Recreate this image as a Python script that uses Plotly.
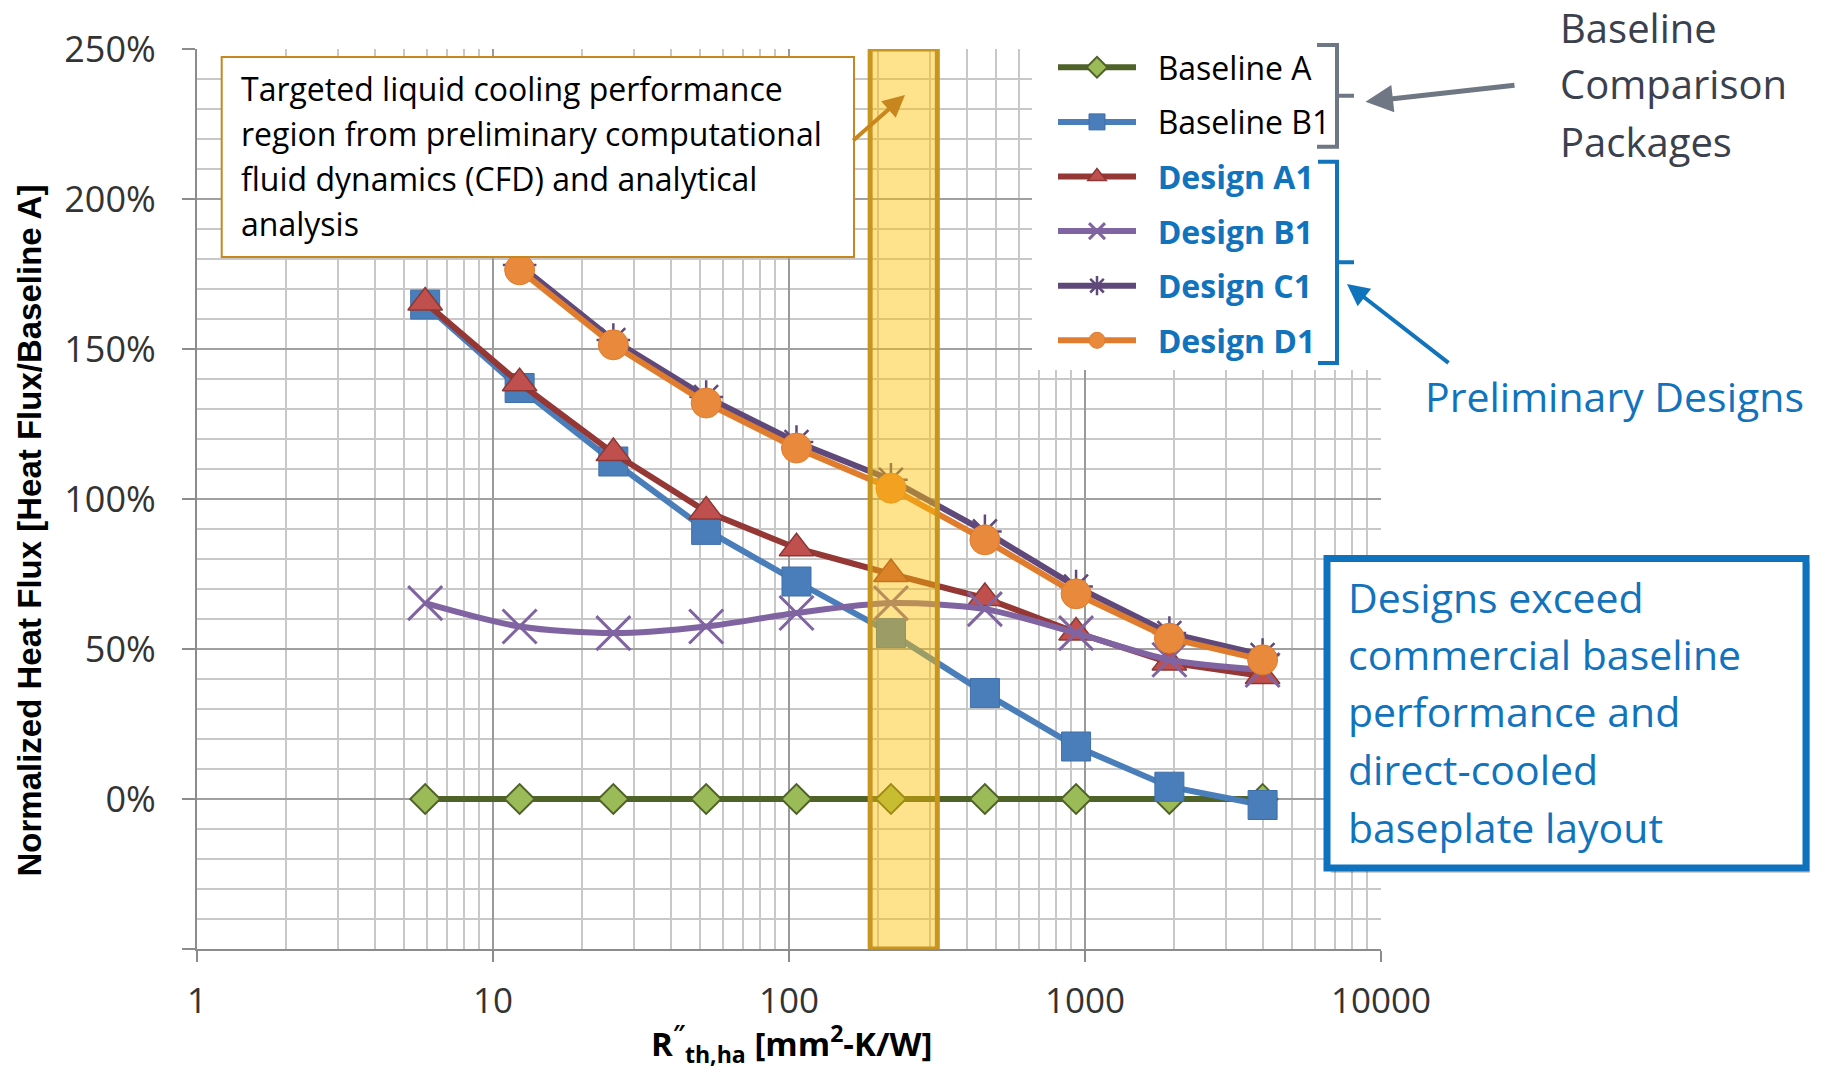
import plotly.graph_objects as go

# ---------------- data ----------------
r_th = [5.9, 12.3, 25.5, 52.5, 106, 221, 459, 933, 1928, 3981]
baseline_a = [0, 0, 0, 0, 0, 0, 0, 0, 0, 0]
baseline_b1 = [164.8, 137.0, 112.5, 89.7, 72.5, 55.3, 35.3, 17.5, 4.1, -2.0]
design_a1 = [165.5, 138.6, 115.3, 95.8, 83.6, 75.0, 67.0, 55.5, 45.5, 41.0]
design_b1 = [65.3, 57.5, 55.3, 57.5, 62.0, 65.3, 63.3, 55.3, 46.4, 43.0]
design_c1 = [None, 178.0, 153.0, 134.0, 119.0, 106.4, 89.2, 70.8, 55.3, 48.0]
design_d1 = [None, 176.4, 151.4, 132.0, 117.0, 103.6, 86.4, 68.4, 53.6, 46.4]
series_names = ["Baseline A", "Baseline B1", "Design A1", "Design B1", "Design C1", "Design D1"]
target_region = [188, 317]
y_tick_vals = [-50, 0, 50, 100, 150, 200, 250]
y_tick_text = ["", "0%", "50%", "100%", "150%", "200%", "250%"]
x_tick_vals = [1, 10, 100, 1000, 10000]
x_tick_text = ["1", "10", "100", "1000", "10000"]

note_lines = ["Targeted liquid cooling performance",
              "region from preliminary computational",
              "fluid dynamics (CFD) and analytical",
              "analysis"]
claim_lines = ["Designs exceed", "commercial baseline", "performance and",
               "direct-cooled", "baseplate layout"]
group_lines = ["Baseline", "Comparison", "Packages"]

# ---------------- layout geometry ----------------
W, H = 1824, 1068
L, R, T, B = 197, 443, 49, 119
PW, PH = W - L - R, H - T - B


def px(x):
    return (x - L) / PW


def py(y):
    return (H - B - y) / PH


BLUE = "#1273BD"
FONT = "Open Sans"
NB = "\u00a0\u00a0"

styles = [
    dict(line=dict(color="#4F6228", width=6),
         marker=dict(symbol="diamond", size=23, color="#9BBB59", line=dict(color="#4F6228", width=2))),
    dict(line=dict(color="#4A7EBB", width=6),
         marker=dict(symbol="square", size=29, color="#4A7EBB", line=dict(color="#3F6FA8", width=1))),
    dict(line=dict(color="#953735", width=6),
         marker=dict(symbol="triangle-up", size=30, color="#C0504D", line=dict(color="#8C3836", width=1.5))),
    dict(line=dict(color="#8064A2", width=6, shape="spline", smoothing=0.8),
         marker=dict(symbol="x-thin", size=34, color="#8064A2", line=dict(color="#8064A2", width=3))),
    dict(line=dict(color="#5F497A", width=6),
         marker=dict(symbol="asterisk", size=28, color="#5F497A", line=dict(color="#5F497A", width=2.5))),
    dict(line=dict(color="#E07C2E", width=6),
         marker=dict(symbol="circle", size=30, color="#E8893B", line=dict(color="#E07C2E", width=1))),
]
series_values = [baseline_a, baseline_b1, design_a1, design_b1, design_c1, design_d1]

fig = go.Figure()
for i, (name, vals, st) in enumerate(zip(series_names, series_values, styles)):
    if name.startswith("Design"):
        label = NB + "<b><span style='color:%s'>%s</span></b>" % (BLUE, name)
    else:
        label = NB + name
    fig.add_trace(go.Scatter(x=r_th, y=vals, name=label, mode="lines+markers",
                             legendgroup="g%d" % i, line=st["line"], marker=st["marker"]))

shapes = []
# white area behind the legend
shapes.append(dict(type="rect", xref="paper", yref="paper", layer="above",
                   x0=px(1032), x1=px(1400), y0=py(370), y1=py(38),
                   fillcolor="white", line=dict(width=0)))
# note box
shapes.append(dict(type="rect", xref="paper", yref="paper", layer="above",
                   x0=px(221.7), x1=px(854), y0=py(257), y1=py(57),
                   fillcolor="white", line=dict(color="#C8861E", width=2)))
# targeted region band
shapes.append(dict(type="rect", xref="x", yref="y", layer="above",
                   x0=target_region[0], x1=target_region[1],
                   y0=-50, y1=250,
                   fillcolor="rgba(255,192,0,0.45)", line=dict(color="#C8961E", width=5)))
# claim box shadow + box
shapes.append(dict(type="rect", xref="paper", yref="paper", layer="above",
                   x0=px(1331), x1=px(1810), y0=py(873), y1=py(563),
                   fillcolor="rgba(0,0,0,0.18)", line=dict(width=0)))
shapes.append(dict(type="rect", xref="paper", yref="paper", layer="above",
                   x0=px(1327), x1=px(1806), y0=py(868), y1=py(558.5),
                   fillcolor="white", line=dict(color="#0F72BE", width=7)))


def bracket(top, bottom, xl, xv, xt, color):
    mid = (top + bottom) / 2
    pts = [(xl, top), (xv, top), (xv, bottom), (xl, bottom)]
    d = "M " + " L ".join("%f,%f" % (px(a), py(b)) for a, b in pts)
    d += " M %f,%f L %f,%f" % (px(xv), py(mid), px(xt), py(mid))
    return dict(type="path", xref="paper", yref="paper", layer="above", path=d,
                line=dict(color=color, width=4))


shapes.append(bracket(45, 146.7, 1317, 1337, 1354, "#6E7783"))
shapes.append(bracket(161.7, 363, 1318, 1337, 1354, BLUE))

ann = []
note_y = [88.7, 133.7, 178.7, 223.7]
for t, yy in zip(note_lines, note_y):
    ann.append(dict(text=t, xref="paper", yref="paper", x=px(239), y=py(yy),
                    xanchor="left", yanchor="middle", showarrow=False,
                    font=dict(family=FONT, size=32, color="black")))
claim_y = [597, 654, 711, 769, 827]
for t, yy in zip(claim_lines, claim_y):
    ann.append(dict(text=t, xref="paper", yref="paper", x=px(1346), y=py(yy),
                    xanchor="left", yanchor="middle", showarrow=False,
                    font=dict(family=FONT, size=41, color=BLUE)))
group_y = [28, 84, 141.5]
for t, yy in zip(group_lines, group_y):
    ann.append(dict(text=t, xref="paper", yref="paper", x=px(1558), y=py(yy),
                    xanchor="left", yanchor="middle", showarrow=False,
                    font=dict(family=FONT, size=40, color="#3A414C")))
ann.append(dict(text="Preliminary Designs", xref="paper", yref="paper", x=px(1423), y=py(396),
                xanchor="left", yanchor="middle", showarrow=False,
                font=dict(family=FONT, size=41, color=BLUE)))


def arrow(head, tail, color, width):
    return dict(text="", xref="paper", yref="paper", x=px(head[0]), y=py(head[1]),
                ax=tail[0] - head[0], ay=tail[1] - head[1], axref="pixel", ayref="pixel",
                showarrow=True, arrowhead=2, arrowsize=1.1, arrowwidth=width, arrowcolor=color)


ann.append(arrow((905, 95), (851.7, 141.7), "#C8861E", 4))
ann.append(arrow((1365.5, 101.7), (1516, 85), "#6E7783", 5))
ann.append(arrow((1347, 284), (1450, 364), BLUE, 4))

# axis titles
ann.append(dict(text="<b>Normalized Heat Flux [Heat Flux/Baseline A]</b>", xref="paper", yref="paper",
                x=px(29), y=py(530.5), textangle=-90, showarrow=False,
                xanchor="center", yanchor="middle",
                font=dict(family="Liberation Sans, Arial", size=33, color="black")))
ann.append(dict(text="<b>R<sup>″</sup><sub>th,ha</sub> [mm<sup>2</sup>-K/W]</b>", xref="paper", yref="paper",
                x=px(791), y=py(1043), showarrow=False, xanchor="center", yanchor="middle",
                font=dict(family=FONT, size=33, color="black")))

fig.update_layout(
    width=W, height=H,
    margin=dict(l=L, r=R, t=T, b=B, autoexpand=False),
    paper_bgcolor="white", plot_bgcolor="white",
    shapes=shapes, annotations=ann,
    legend=dict(x=px(1053), xanchor="left", y=py(40), yanchor="top",
                font=dict(family=FONT, size=32, color="black"),
                bgcolor="rgba(0,0,0,0)", itemwidth=78, tracegroupgap=10, borderwidth=0),
    xaxis=dict(type="log", range=[0, 4], tickmode="array", tickvals=x_tick_vals, ticktext=x_tick_text,
               ticks="outside", ticklen=11, tickwidth=2, tickcolor="#8C8C8C",
               showgrid=True, gridcolor="#9A9A9A", gridwidth=2,
               minor=dict(dtick="D1", showgrid=True, gridcolor="#C8C8C8", gridwidth=1.5, ticks=""),
               showline=True, linecolor="#8C8C8C", linewidth=2, zeroline=False,
               tickfont=dict(family=FONT, size=35, color="#333333"), ticklabelstandoff=9),
    yaxis=dict(range=[-50, 250], tickmode="array", tickvals=y_tick_vals, ticktext=y_tick_text,
               ticks="outside", ticklen=13, tickwidth=2, tickcolor="#8C8C8C",
               showgrid=True, gridcolor="#A0A0A0", gridwidth=2,
               minor=dict(tickmode="linear", tick0=0, dtick=10, showgrid=True,
                          gridcolor="#C8C8C8", gridwidth=1.5, ticks=""),
               showline=True, linecolor="#8C8C8C", linewidth=2, zeroline=False,
               tickfont=dict(family=FONT, size=36, color="#333333"), ticklabelstandoff=19),
    showlegend=True,
)

fig.write_html("out.html")
